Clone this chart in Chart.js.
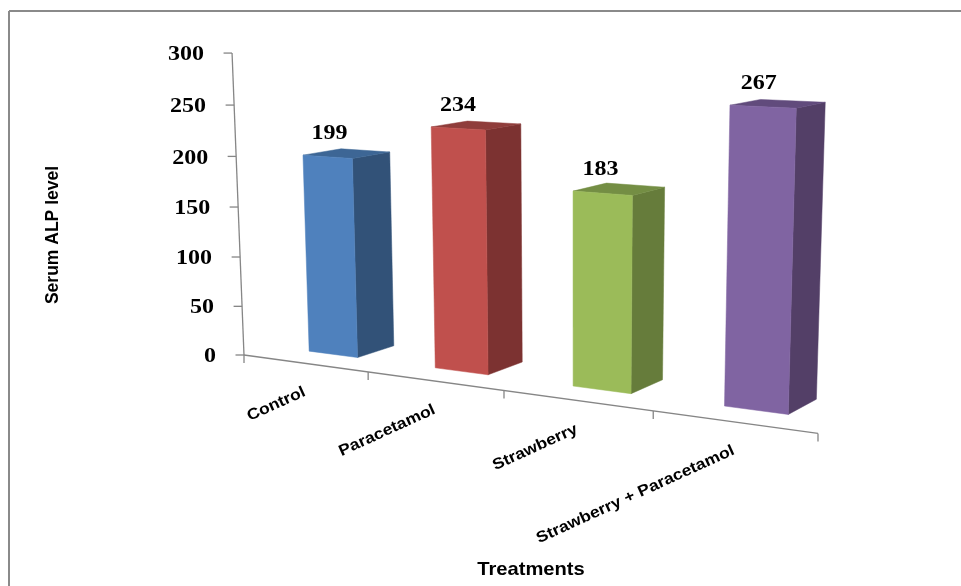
<!DOCTYPE html>
<html>
<head>
<meta charset="utf-8">
<title>Serum ALP level</title>
<script src="https://cdn.jsdelivr.net/npm/chart.js@4"></script>
<style>
    html, body { margin: 0; padding: 0; background: #ffffff; }
    canvas { display: block; }
</style>
</head>
<body>
<canvas id="alpChart" width="961" height="586"></canvas>
<script>
const treatments = ['Control', 'Paracetamol', 'Strawberry', 'Strawberry + Paracetamol'];
const alpLevels = [199, 234, 183, 267];
const frontColors = ['#4F81BD', '#C0504D', '#9BBB59', '#8064A2'];
const sideColors = ['#325278', '#7C3231', '#667C3B', '#533F67'];
const topColors = ['#3D6695', '#8F3D3B', '#748E44', '#614B7C'];

const AXIS_COLOR = '#868686';
const SERIF_BOLD = 'bold 20px "Liberation Serif"';
const DEPTH_FRONT = 0.205;
const DEPTH_BACK = 0.482;

// perspective camera: u along the categories, v up the values, w into the picture (all 0..1)
function project(u, v, w) {
    const d = 1 - 0.172 * u - 0.039 * v + 0.1 * w;
    return {
        x: (244 + 433.3 * u - 21 * v - 2.5 * u * v + 169 * w) / d,
        y: (355 + 3.9 * u - 304 * v + 3.6 * u * v - 7.5 * w) / d
    };
}

function fillFace(ctx, points, color) {
    ctx.beginPath();
    points.forEach(function (p, i) {
        if (i == 0) ctx.moveTo(p.x, p.y);
        else ctx.lineTo(p.x, p.y);
    });
    ctx.closePath();
    ctx.fillStyle = color;
    ctx.fill();
    ctx.strokeStyle = color;
    ctx.lineWidth = 0.5;
    ctx.stroke();
}

function drawLine(ctx, a, b) {
    ctx.beginPath();
    ctx.moveTo(a.x, a.y);
    ctx.lineTo(b.x, b.y);
    ctx.stroke();
}

// stretch widens the glyphs, the reference picture was scaled unevenly
function drawText(ctx, text, x, y, font, stretch, angle, align) {
    ctx.save();
    ctx.translate(x, y);
    ctx.rotate(angle);
    ctx.scale(stretch, 1);
    ctx.font = font;
    ctx.fillStyle = '#000000';
    ctx.textAlign = align;
    ctx.textBaseline = 'middle';
    ctx.fillText(text, 0, 0);
    ctx.restore();
}

const perspectiveBars = {
    id: 'perspectiveBars',
    beforeDatasetDraw: function () {
        return false;
    },
    afterDatasetsDraw: function (chart) {
        const ctx = chart.ctx;
        const area = chart.chartArea;
        const xScale = chart.scales.x;
        const yScale = chart.scales.y;
        const toU = function (px) { return (px - area.left) / area.width; };
        const toV = function (py) { return (area.bottom - py) / area.height; };

        ctx.save();

        // chart frame
        ctx.strokeStyle = '#8A8A8A';
        ctx.lineWidth = 2;
        drawLine(ctx, { x: 9, y: 586 }, { x: 9, y: 11 });
        drawLine(ctx, { x: 9, y: 11 }, { x: 961, y: 11 });

        // axes
        ctx.strokeStyle = AXIS_COLOR;
        ctx.lineWidth = 1.3;
        drawLine(ctx, project(0, 0, 0), project(0, 1, 0));
        drawLine(ctx, project(0, 0, 0), project(1, 0, 0));

        yScale.ticks.forEach(function (tick) {
            const p = project(0, toV(yScale.getPixelForValue(tick.value)), 0);
            drawLine(ctx, p, { x: p.x - 8.5, y: p.y });
            drawText(ctx, String(tick.value), p.x - 28, p.y + 2, SERIF_BOLD, 1.2, 0, 'right');
        });

        for (let i = 0; i <= treatments.length; i++) {
            const p = project(i / treatments.length, 0, 0);
            drawLine(ctx, p, { x: p.x, y: p.y + 8 });
        }

        treatments.forEach(function (name, i) {
            const p = project(toU(xScale.getPixelForValue(i)), 0, 0);
            drawText(ctx, name, p.x, p.y + 28, 'bold 15.5px "Liberation Sans"', 1.13, -24.5 * Math.PI / 180, 'right');
        });

        // bars, from the elements the bar controller laid out
        chart.getDatasetMeta(0).data.forEach(function (bar, i) {
            const uL = toU(bar.x - bar.width / 2);
            const uR = toU(bar.x + bar.width / 2);
            const v = toV(bar.y);
            fillFace(ctx, [project(uR, 0, DEPTH_FRONT), project(uR, 0, DEPTH_BACK), project(uR, v, DEPTH_BACK), project(uR, v, DEPTH_FRONT)], sideColors[i]);
            fillFace(ctx, [project(uL, v, DEPTH_FRONT), project(uR, v, DEPTH_FRONT), project(uR, v, DEPTH_BACK), project(uL, v, DEPTH_BACK)], topColors[i]);
            fillFace(ctx, [project(uL, 0, DEPTH_FRONT), project(uR, 0, DEPTH_FRONT), project(uR, v, DEPTH_FRONT), project(uL, v, DEPTH_FRONT)], frontColors[i]);
            const c = project(toU(bar.x), v, DEPTH_FRONT);
            drawText(ctx, String(alpLevels[i]), c.x + 3 - 8 * toU(bar.x), c.y - 23, SERIF_BOLD, 1.2, 0, 'center');
        });

        // axis titles
        drawText(ctx, 'Serum ALP level', 53.5, 235, 'bold 17.5px "Liberation Sans"', 1, -Math.PI / 2, 'center');
        drawText(ctx, 'Treatments', 531, 570, 'bold 18.5px "Liberation Sans"', 1.09, 0, 'center');

        ctx.restore();
    }
};

window.addEventListener('DOMContentLoaded', function () {
    const ctx = document.getElementById('alpChart').getContext('2d');
    new Chart(ctx, {
        type: 'bar',
        data: {
            labels: treatments,
            datasets: [{
                label: 'Serum ALP level',
                data: alpLevels,
                backgroundColor: frontColors,
                barPercentage: 0.394,
                categoryPercentage: 1
            }]
        },
        plugins: [perspectiveBars],
        options: {
            responsive: false,
            animation: false,
            layout: {
                padding: { left: 244, right: 143, top: 53, bottom: 231 }
            },
            scales: {
                x: { display: false },
                y: {
                    display: false,
                    min: 0,
                    max: 300,
                    ticks: { stepSize: 50 }
                }
            },
            plugins: {
                legend: { display: false },
                tooltip: { enabled: false }
            }
        }
    });
});
</script>
</body>
</html>
